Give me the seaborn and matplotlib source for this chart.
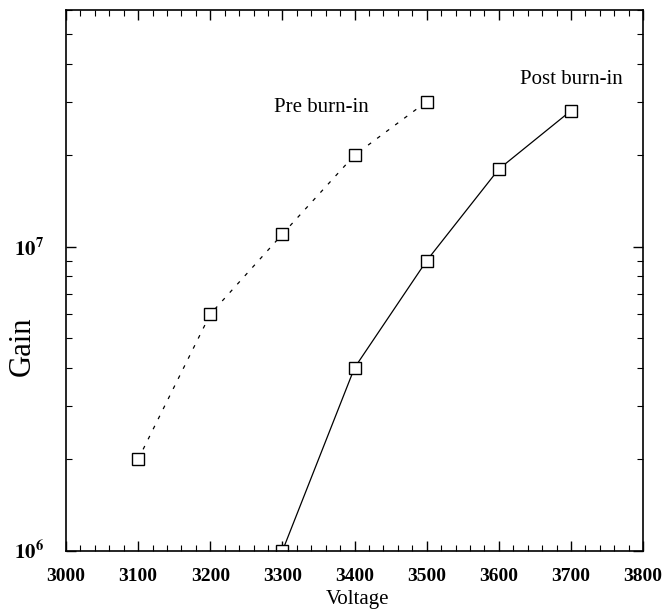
import numpy as np
import pandas as pd
import matplotlib
matplotlib.use('Agg')
import matplotlib.pyplot as plt
import seaborn as sns
from matplotlib.ticker import MultipleLocator, FixedLocator, FixedFormatter, LogLocator, NullFormatter

# data
pre_voltage = [3100, 3200, 3300, 3400, 3500]
pre_gain = [2.0e6, 6.0e6, 1.1e7, 2.0e7, 3.0e7]
post_voltage = [3300, 3400, 3500, 3600, 3700]
post_gain = [1.0e6, 4.0e6, 9.0e6, 1.8e7, 2.8e7]

sns.set_theme(style='ticks')
plt.rcParams['font.family'] = ['Liberation Serif', 'DejaVu Serif']
plt.rcParams['mathtext.fontset'] = 'stix'
plt.rcParams['mathtext.default'] = 'bf'
plt.rcParams['text.color'] = 'black'
plt.rcParams['axes.labelcolor'] = 'black'

pre = pd.DataFrame({'Voltage': pre_voltage, 'Gain': pre_gain})
post = pd.DataFrame({'Voltage': post_voltage, 'Gain': post_gain})

fig = plt.figure(figsize=(6.63, 6.14), dpi=100)
ax = fig.add_axes([0.0995, 0.1026, 0.8705, 0.8811])

sns.lineplot(data=pre, x='Voltage', y='Gain', ax=ax, color='black', linewidth=0.9,
             linestyle=(0, (3, 6)), marker='s', markersize=8, markerfacecolor='white',
             markeredgecolor='black', markeredgewidth=1.0)
sns.lineplot(data=post, x='Voltage', y='Gain', ax=ax, color='black', linewidth=0.9,
             marker='s', markersize=8, markerfacecolor='white',
             markeredgecolor='black', markeredgewidth=1.0)

ax.set_yscale('log')
ax.set_xlim(3000, 3800)
ax.set_ylim(1e6, 6e7)

ax.xaxis.set_major_locator(MultipleLocator(100))
ax.xaxis.set_minor_locator(MultipleLocator(20))
ax.yaxis.set_major_locator(FixedLocator([1e6, 1e7]))
ax.yaxis.set_major_formatter(FixedFormatter([r'$10^{6}$', r'$10^{7}$']))
ax.yaxis.set_minor_locator(LogLocator(base=10, subs=np.arange(2, 10)))
ax.yaxis.set_minor_formatter(NullFormatter())

ax.tick_params(which='both', direction='in', top=True, right=True, colors='black')
ax.tick_params(which='major', length=7, width=1.0, labelsize=14)
ax.tick_params(which='minor', length=4, width=0.8)
ax.tick_params(axis='x', which='major', pad=12)
ax.tick_params(axis='y', which='major', pad=16)
for lbl in ax.get_xticklabels():
    lbl.set_fontweight('bold')
for lbl in ax.get_yticklabels():
    lbl.set_fontsize(15)

for s in ax.spines.values():
    s.set_color('black')
    s.set_linewidth(1.2)

ax.set_xlabel('Voltage', fontsize=15)
ax.set_ylabel('Gain', fontsize=22)
ax.xaxis.set_label_coords(0.506, -0.072)
ax.yaxis.set_label_coords(-0.05, 0.379)

ax.text(3354, 2.87e7, 'Pre burn-in', fontsize=15, ha='center', va='center', color='black')
ax.text(3700, 3.54e7, 'Post burn-in', fontsize=15, ha='center', va='center', color='black')

fig.savefig('out.png', dpi=100, facecolor='white')
